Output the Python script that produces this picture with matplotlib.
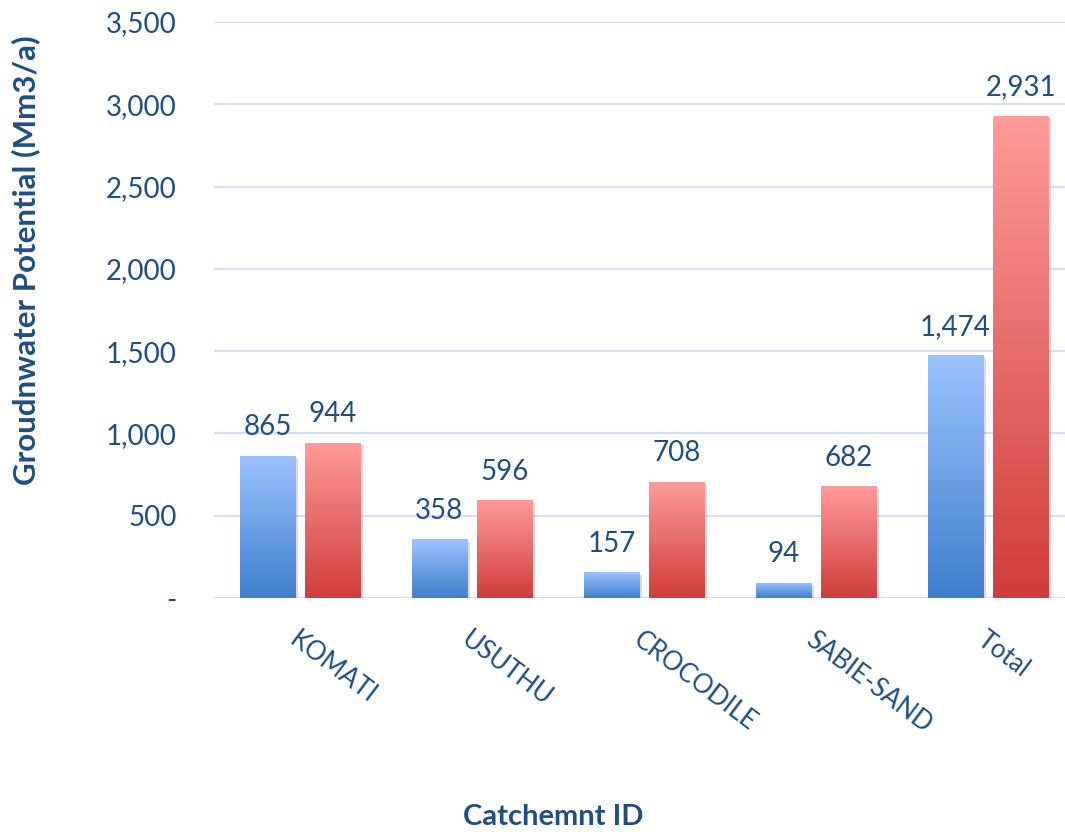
import numpy as np
import matplotlib
matplotlib.use("Agg")
import matplotlib.pyplot as plt
from matplotlib.colors import LinearSegmentedColormap
from matplotlib.ticker import FuncFormatter
import matplotlib.patheffects as pe
import matplotlib.transforms as mtransforms

categories = ["KOMATI", "USUTHU", "CROCODILE", "SABIE-SAND", "Total"]
series_blue = [865, 358, 157, 94, 1474]
series_red = [944, 596, 708, 682, 2931]
y_ticks = [0, 500, 1000, 1500, 2000, 2500, 3000, 3500]

TEXT = "#1F4E85"
FONT = "Lato"

fig = plt.figure(figsize=(10.65, 8.32), dpi=100)
ax = fig.add_axes([0.201, 0.2812, 0.8075, 0.6924])
ax.set_facecolor("none")

cmap_blue = LinearSegmentedColormap.from_list("b", ["#3E7FCC", "#9CC3FF"])
cmap_red = LinearSegmentedColormap.from_list("r", ["#D03D3B", "#FF9B99"])

width = 0.32
offset = 0.19
x = np.arange(len(categories))

def gradient_bars(xpos, vals, cmap):
    bars = ax.bar(xpos, vals, width=width, color="white", zorder=2,
                  path_effects=[pe.SimplePatchShadow(offset=(2, -2), shadow_rgbFace="#888888", alpha=0.3), pe.Normal()])
    grad = np.linspace(0, 1, 256).reshape(-1, 1)
    for b in bars:
        x0, y0 = b.get_x(), b.get_y()
        w, h = b.get_width(), b.get_height()
        im = ax.imshow(grad, cmap=cmap, aspect="auto", origin="lower",
                       extent=(x0, x0 + w, y0, y0 + h), zorder=3)
        im.set_clip_path(b)
        ax.annotate(f"{int(h):,}", (x0 + w / 2, h), xytext=(0, 11),
                    textcoords="offset points", ha="center", va="bottom",
                    fontsize=20, color=TEXT, family=FONT, zorder=4)
    return bars

gradient_bars(x - offset, series_blue, cmap_blue)
gradient_bars(x + offset, series_red, cmap_red)

ax.set_xlim(-0.5, len(categories) - 0.5)
ax.set_ylim(0, 3500)
ax.set_yticks(y_ticks)
ax.yaxis.set_major_formatter(FuncFormatter(lambda v, p: "-" if v == 0 else f"{int(v):,}"))
ax.grid(axis="y", color="#D3E0F2", linewidth=1.6, zorder=0)
ax.set_axisbelow(True)
for s in ax.spines.values():
    s.set_visible(False)
ax.tick_params(axis="both", length=0, colors=TEXT, labelsize=20)
ax.tick_params(axis="y", pad=27)
for lab in ax.get_yticklabels():
    lab.set_family(FONT)

ax.set_xticks(x)
ax.set_xticklabels(categories, rotation=-37, ha="left", va="top",
                   rotation_mode="anchor", family=FONT, fontsize=18.5, color=TEXT)
shift = mtransforms.ScaledTranslation(3 / 100, 0, fig.dpi_scale_trans)
for lab in ax.get_xticklabels():
    lab.set_transform(lab.get_transform() + shift)
ax.tick_params(axis="x", pad=21)

fig.text(26 / 1065, 1 - 260 / 832, "Groudnwater Potential (Mm3/a)", rotation=90,
         ha="center", va="center", fontsize=22.5, fontweight="bold", color=TEXT, family=FONT)
fig.text(553 / 1065, 1 - 817 / 832, "Catchemnt ID", ha="center", va="center",
         fontsize=21, fontweight="bold", color=TEXT, family=FONT)

fig.savefig("out.png", dpi=100)
